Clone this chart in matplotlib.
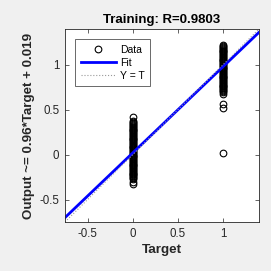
import numpy as np
import matplotlib.pyplot as plt

plt.rcParams['font.family'] = ['Liberation Sans', 'DejaVu Sans']

# outputs, grouped by target
alvo_0 = [-0.33, -0.30, -0.27, -0.26, -0.25, -0.24, -0.23, -0.22, -0.21, -0.20,
          -0.19, -0.18, -0.17, -0.16, -0.15, -0.14, -0.13, -0.12, -0.11, -0.10,
          -0.09, -0.08, -0.07, -0.06, -0.05, -0.04, -0.03, -0.02, -0.01, 0.00,
          0.01, 0.02, 0.03, 0.04, 0.05, 0.06, 0.07, 0.08, 0.09, 0.10,
          0.11, 0.12, 0.13, 0.14, 0.15, 0.16, 0.17, 0.18, 0.19, 0.20,
          0.21, 0.22, 0.23, 0.24, 0.25, 0.26, 0.27, 0.28, 0.29, 0.30,
          0.31, 0.32, 0.33, 0.34, 0.35, 0.36, 0.38, 0.42]
alvo_1 = [0.02, 0.52, 0.57, 0.68, 0.70, 0.71, 0.72, 0.73, 0.74, 0.75,
          0.76, 0.77, 0.78, 0.79, 0.80, 0.81, 0.82, 0.83, 0.84, 0.85,
          0.86, 0.87, 0.88, 0.89, 0.90, 0.91, 0.92, 0.93, 0.94, 0.95,
          0.96, 0.97, 0.98, 0.99, 1.00, 1.01, 1.02, 1.03, 1.04, 1.05,
          1.06, 1.07, 1.08, 1.09, 1.10, 1.11, 1.12, 1.13, 1.14, 1.15,
          1.16, 1.17, 1.18, 1.19, 1.20, 1.21, 1.22]

coef = 0.96
intercepto = 0.019
r = 0.9803

alvos = [0] * len(alvo_0) + [1] * len(alvo_1)
saidas = alvo_0 + alvo_1

fig = plt.figure(figsize=(2.71, 2.71), dpi=100, facecolor='#f0f0f0')
ax = fig.add_axes([65 / 271, 1 - 222 / 271, 194 / 271, 193 / 271])

lim = [-0.75, 1.4]
xs = np.array(lim)
ax.plot(alvos, saidas, 'o', mfc='none', mec='black', ms=4.8, mew=0.8, label='Data')
ax.plot(xs, coef * xs + intercepto, color='blue', lw=2, label='Fit')
ax.plot(xs, xs, ':', color='#999999', lw=0.8, label='Y = T')

ax.set_xlim(lim)
ax.set_ylim(lim)
ax.set_xticks([-0.5, 0, 0.5, 1])
ax.set_yticks([-0.5, 0, 0.5, 1])
ax.set_xticklabels(['-0.5', '0', '0.5', '1'])
ax.set_yticklabels(['-0.5', '0', '0.5', '1'])
ax.tick_params(direction='in', top=True, right=True, labelsize=8.3,
               colors='#262626', length=3, width=0.5, pad=4)
for s in ax.spines.values():
    s.set_linewidth(0.6)
    s.set_color('#262626')

ax.set_title('Training: R=%.4f' % r, fontsize=9.5, fontweight='bold', pad=4)
ax.set_xlabel('Target', fontsize=9.7, fontweight='bold', labelpad=3, color='#262626')
ax.set_ylabel('Output ~= %.2g*Target + %.2g' % (coef, intercepto), fontsize=9.6,
              fontweight='bold', labelpad=3, color='#262626')

leg = ax.legend(loc='upper left', fontsize=7.5, fancybox=False, edgecolor='#262626',
                borderaxespad=1.0, handlelength=3.4, handletextpad=0.35,
                labelspacing=0.3, borderpad=0.5)
leg.get_frame().set_linewidth(0.6)

fig.savefig('out.png', dpi=100, facecolor=fig.get_facecolor())
